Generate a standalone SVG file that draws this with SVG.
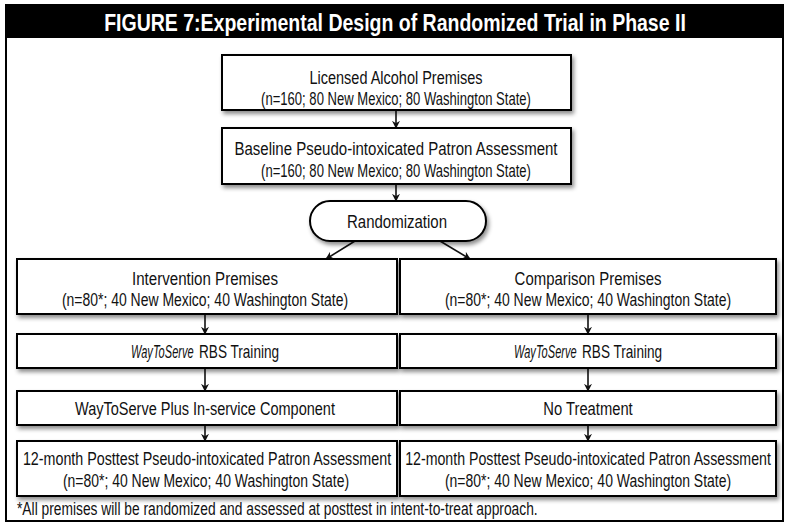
<svg xmlns="http://www.w3.org/2000/svg" width="789" height="525" viewBox="0 0 789 525">
<style>
.box{fill:#fff;stroke:#000;stroke-width:2;filter:url(#sh)}
.t{font-family:"Liberation Sans",Arial,sans-serif;font-size:17.5px;fill:#111;text-anchor:middle}
.i{font-family:"Liberation Sans",Arial,sans-serif;font-size:17.5px;fill:#111;font-style:italic;text-anchor:start}
.s{font-family:"Liberation Sans",Arial,sans-serif;font-size:17.5px;fill:#111;text-anchor:start}
.ttl{font-family:"Liberation Sans",Arial,sans-serif;font-size:24px;font-weight:bold;fill:#fff;text-anchor:middle}
.c{stroke:#111;stroke-width:1.6;fill:none;marker-end:url(#ah)}
</style>
<defs>
<filter id="sh" x="-10%" y="-20%" width="120%" height="150%">
<feDropShadow dx="2" dy="3" stdDeviation="2" flood-color="#000" flood-opacity="0.45"/>
</filter>
<marker id="ah" viewBox="0 0 10 10" refX="9" refY="5" markerWidth="8" markerHeight="8" markerUnits="userSpaceOnUse" orient="auto">
<path d="M0,0 L10,5 L0,10 L3,5 z" fill="#111"/>
</marker>
</defs>
<rect x="6" y="5" width="777" height="516" fill="#fff" stroke="#000" stroke-width="2"/>
<rect x="6" y="5" width="777" height="33" fill="#000"/>
<text class="ttl" transform="translate(395,30.5) scale(0.8,1)" x="0" y="0" textLength="727" lengthAdjust="spacingAndGlyphs">FIGURE 7:Experimental Design of Randomized Trial in Phase II</text>

<g id="connectors">
<line class="c" x1="396" y1="110" x2="396" y2="128"/>
<line class="c" x1="396" y1="184" x2="396" y2="201"/>
<line class="c" x1="355" y1="241" x2="326" y2="259"/>
<line class="c" x1="440" y1="241" x2="470" y2="259"/>
<line class="c" x1="205" y1="314" x2="205" y2="334"/>
<line class="c" x1="205" y1="368" x2="205" y2="391"/>
<line class="c" x1="205" y1="425" x2="205" y2="441"/>
<line class="c" x1="588" y1="314" x2="588" y2="334"/>
<line class="c" x1="588" y1="368" x2="588" y2="391"/>
<line class="c" x1="588" y1="425" x2="588" y2="441"/>
</g>

<g id="n-licensed">
<rect class="box" x="222" y="55" width="349" height="55"/>
<text class="t" transform="translate(396,83.5) scale(0.82,1)" x="0" y="0" textLength="211" lengthAdjust="spacingAndGlyphs">Licensed Alcohol Premises</text>
<text class="t" transform="translate(396,104.5) scale(0.82,1)" x="0" y="0" textLength="329" lengthAdjust="spacingAndGlyphs">(n=160; 80 New Mexico; 80 Washington State)</text>
</g>
<g id="n-baseline">
<rect class="box" x="222" y="128" width="349" height="56"/>
<text class="t" transform="translate(396,154.5) scale(0.82,1)" x="0" y="0" textLength="394" lengthAdjust="spacingAndGlyphs">Baseline Pseudo-intoxicated Patron Assessment</text>
<text class="t" transform="translate(396,176.5) scale(0.82,1)" x="0" y="0" textLength="329" lengthAdjust="spacingAndGlyphs">(n=160; 80 New Mexico; 80 Washington State)</text>
</g>
<g id="n-random">
<rect class="box" x="310" y="201" width="176" height="40" rx="20" ry="20"/>
<text class="t" transform="translate(397,227.5) scale(0.82,1)" x="0" y="0" textLength="122" lengthAdjust="spacingAndGlyphs">Randomization</text>
</g>
<g id="n-intervention">
<rect class="box" x="17" y="259" width="380" height="55"/>
<text class="t" transform="translate(205,284.5) scale(0.82,1)" x="0" y="0" textLength="178" lengthAdjust="spacingAndGlyphs">Intervention Premises</text>
<text class="t" transform="translate(205,305.5) scale(0.82,1)" x="0" y="0" textLength="349" lengthAdjust="spacingAndGlyphs">(n=80*; 40 New Mexico; 40 Washington State)</text>
</g>
<g id="n-comparison">
<rect class="box" x="400" y="259" width="376" height="55"/>
<text class="t" transform="translate(588,284.5) scale(0.82,1)" x="0" y="0" textLength="179" lengthAdjust="spacingAndGlyphs">Comparison  Premises</text>
<text class="t" transform="translate(588,305.5) scale(0.82,1)" x="0" y="0" textLength="349" lengthAdjust="spacingAndGlyphs">(n=80*; 40 New Mexico; 40 Washington State)</text>
</g>
<g id="n-train-l">
<rect class="box" x="17" y="334" width="380" height="34"/>
<text class="i" transform="translate(131,357.5) scale(0.62,1)" x="0" y="0" textLength="101" lengthAdjust="spacingAndGlyphs">WayToServe</text>
<text class="s" transform="translate(199,357.5) scale(0.77,1)" x="0" y="0" textLength="104" lengthAdjust="spacingAndGlyphs">RBS Training</text>
</g>
<g id="n-train-r">
<rect class="box" x="400" y="334" width="376" height="34"/>
<text class="i" transform="translate(514,357.5) scale(0.62,1)" x="0" y="0" textLength="101" lengthAdjust="spacingAndGlyphs">WayToServe</text>
<text class="s" transform="translate(582,357.5) scale(0.77,1)" x="0" y="0" textLength="104" lengthAdjust="spacingAndGlyphs">RBS Training</text>
</g>
<g id="n-plus">
<rect class="box" x="17" y="391" width="380" height="34"/>
<text class="t" transform="translate(205,414.5) scale(0.82,1)" x="0" y="0" textLength="317" lengthAdjust="spacingAndGlyphs">WayToServe Plus In-service Component</text>
</g>
<g id="n-notreat">
<rect class="box" x="400" y="391" width="376" height="34"/>
<text class="t" transform="translate(588,414.5) scale(0.82,1)" x="0" y="0" textLength="109" lengthAdjust="spacingAndGlyphs">No Treatment</text>
</g>
<g id="n-post-l">
<rect class="box" x="17" y="441" width="380" height="55"/>
<text class="t" transform="translate(207,464.5) scale(0.82,1)" x="0" y="0" textLength="449" lengthAdjust="spacingAndGlyphs">12-month Posttest Pseudo-intoxicated Patron Assessment</text>
<text class="t" transform="translate(206,486.5) scale(0.82,1)" x="0" y="0" textLength="349" lengthAdjust="spacingAndGlyphs">(n=80*; 40 New Mexico; 40 Washington State)</text>
</g>
<g id="n-post-r">
<rect class="box" x="400" y="441" width="376" height="55"/>
<text class="t" transform="translate(588,464.5) scale(0.82,1)" x="0" y="0" textLength="446" lengthAdjust="spacingAndGlyphs">12-month Posttest Pseudo-intoxicated Patron Assessment</text>
<text class="t" transform="translate(588,486.5) scale(0.82,1)" x="0" y="0" textLength="349" lengthAdjust="spacingAndGlyphs">(n=80*; 40 New Mexico; 40 Washington State)</text>
</g>
<text class="s" transform="translate(17,514.5) scale(0.82,1)" x="0" y="0" textLength="635" lengthAdjust="spacingAndGlyphs">*All premises will be randomized and assessed at posttest in intent-to-treat approach.</text>
</svg>
